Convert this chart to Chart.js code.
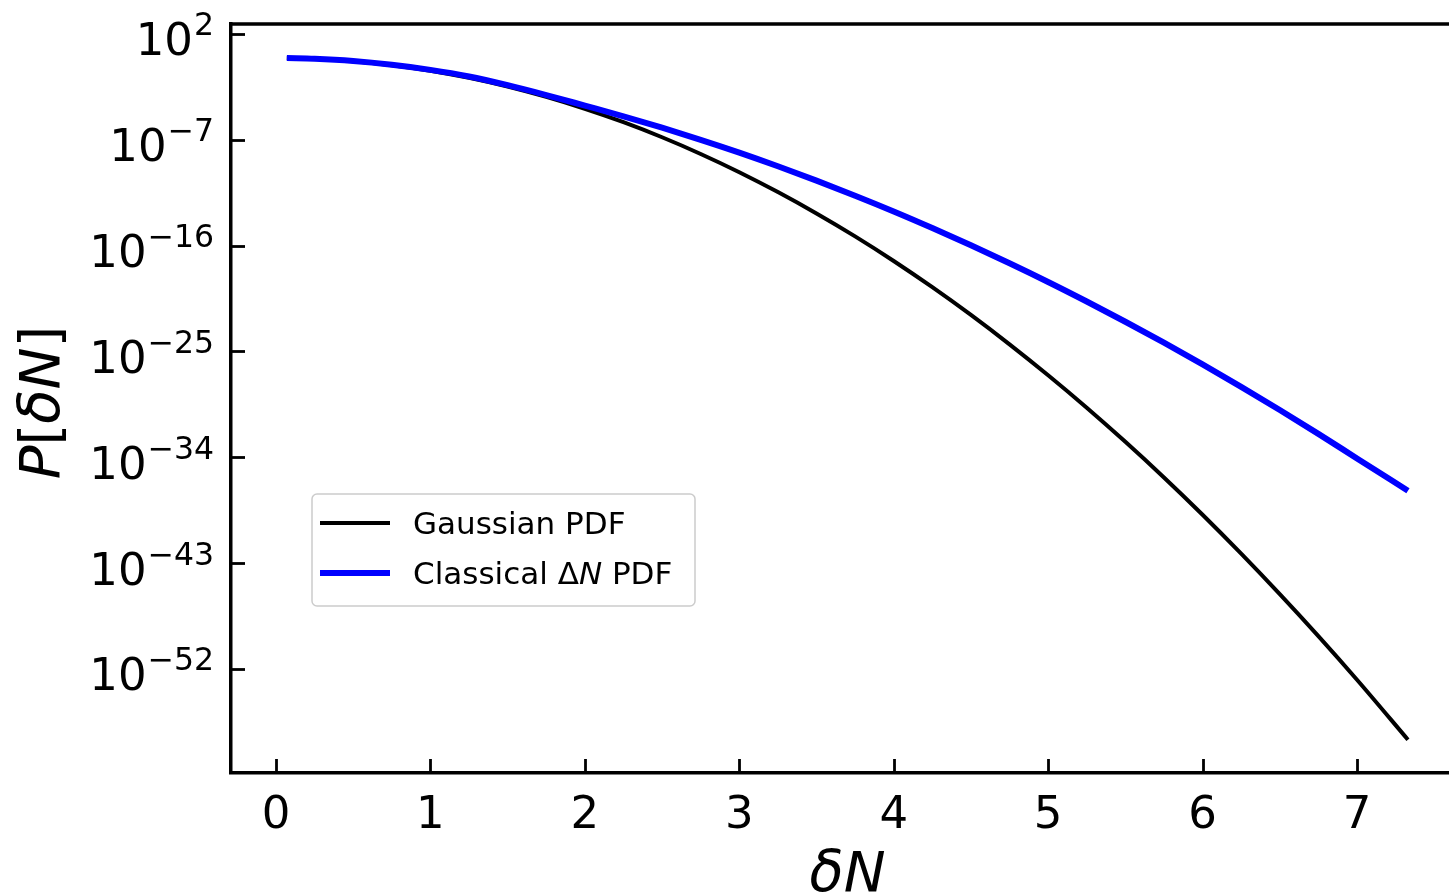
<!DOCTYPE html>
<html>
<head>
<meta charset="utf-8">
<script src="https://cdn.jsdelivr.net/npm/chart.js@4.4.1/dist/chart.umd.min.js"></script>
<style>
html,body{margin:0;padding:0;overflow:hidden;background:#fff;width:1449px;height:894px}
#wrap{position:absolute;left:0;top:0;width:1466px;height:894px}
</style>
</head>
<body>
<div id="wrap"><canvas id="c" width="1466" height="894"></canvas></div>
<script>
// ---- data (y values given as log10 exponents) ----
const deltaN = [0.07,0.25,0.5,0.75,1.0,1.25,1.5,1.75,2.0,2.25,2.5,2.75,3.0,3.25,3.5,3.75,4.0,4.25,4.5,4.75,5.0,5.25,5.5,5.75,6.0,6.25,6.5,6.75,7.0,7.33];
const gaussianExp = [-0.06,-0.12,-0.32,-0.66,-1.13,-1.74,-2.48,-3.36,-4.37,-5.51,-6.79,-8.21,-9.76,-11.45,-13.27,-15.22,-17.31,-19.54,-21.90,-24.40,-27.03,-29.79,-32.69,-35.72,-38.89,-42.20,-45.64,-49.21,-52.92,-58.02];
const classicalExp = [-0.06,-0.12,-0.31,-0.63,-1.06,-1.62,-2.36,-3.20,-4.10,-5.01,-5.98,-7.01,-8.10,-9.26,-10.48,-11.76,-13.10,-14.51,-15.98,-17.51,-19.10,-20.76,-22.48,-24.26,-26.10,-28.01,-29.98,-32.01,-34.10,-36.85];
const xTickValues = [0,1,2,3,4,5,6,7];
const yTickExponents = [2,-7,-16,-25,-34,-43,-52];
const seriesLabels = ['Gaussian PDF','Classical \u0394N PDF'];

const toPoints = (xs, exps) => xs.map((x,i) => ({x: x, y: Math.pow(10, exps[i])}));

const FONT = '"DejaVu Sans"';

const framePlugin = {
  id: 'frame',
  afterDraw(chart) {
    const ctx = chart.ctx, a = chart.chartArea, xs = chart.scales.x, ys = chart.scales.y;
    ctx.save();
    ctx.strokeStyle = '#000'; ctx.fillStyle = '#000';
    // top and right spines
    ctx.lineWidth = 3.5;
    ctx.beginPath(); ctx.moveTo(a.left, a.top); ctx.lineTo(a.right, a.top); ctx.lineTo(a.right, a.bottom); ctx.stroke();
    // inward tick marks
    ctx.lineWidth = 2.8;
    xs.ticks.forEach(t => {
      const px = Math.round(xs.getPixelForValue(t.value)) + 0.5;
      ctx.beginPath(); ctx.moveTo(px, a.bottom); ctx.lineTo(px, a.bottom - 14); ctx.stroke();
    });
    ys.ticks.forEach(t => {
      const py = Math.round(ys.getPixelForValue(t.value)) + 0.5;
      ctx.beginPath(); ctx.moveTo(a.left, py); ctx.lineTo(a.left + 14, py); ctx.stroke();
    });
    // x tick labels
    ctx.font = '45px ' + FONT; ctx.textAlign = 'center'; ctx.textBaseline = 'alphabetic';
    xs.ticks.forEach(t => {
      ctx.fillText(String(t.value), xs.getPixelForValue(t.value), a.bottom + 55);
    });
    // y tick labels 10^e
    ys.ticks.forEach(t => {
      const e = Math.round(Math.log10(t.value));
      const sup = e < 0 ? '\u2212' + Math.abs(e) : String(e);
      const py = ys.getPixelForValue(t.value);
      const right = a.left - 17;
      ctx.textAlign = 'right';
      ctx.font = '31.5px ' + FONT;
      const sw = ctx.measureText(sup).width;
      ctx.fillText(sup, right, py + 1.5);
      ctx.font = '45px ' + FONT;
      ctx.fillText('10', right - sw - 1, py + 21.5);
    });
    // x axis title: δN (math italic)
    ctx.font = 'italic 56px ' + FONT; ctx.textAlign = 'center';
    ctx.fillText('\u03B4N', (a.left + a.right) / 2, a.bottom + 118);
    // y axis title: P[δN]
    ctx.save();
    ctx.translate(59, (a.top + a.bottom) / 2 + 4);
    ctx.rotate(-Math.PI / 2);
    const parts = [['P', true], ['[', false], ['\u03B4N', true], [']', false]];
    let total = 0;
    parts.forEach(p => { ctx.font = (p[1] ? 'italic ' : '') + '56px ' + FONT; p.push(ctx.measureText(p[0]).width); total += p[2]; });
    let x0 = -total / 2;
    ctx.textAlign = 'left';
    parts.forEach(p => { ctx.font = (p[1] ? 'italic ' : '') + '56px ' + FONT; ctx.fillText(p[0], x0, 0); x0 += p[2]; });
    ctx.restore();
    // legend
    const lx = 312, ly = 494, lw = 383, lh = 112;
    ctx.beginPath();
    ctx.roundRect(lx, ly, lw, lh, 5);
    ctx.fillStyle = 'rgba(255,255,255,0.8)'; ctx.fill();
    ctx.strokeStyle = '#cccccc'; ctx.lineWidth = 1.5; ctx.stroke();
    const ds = chart.data.datasets;
    const rows = [529, 579];
    ds.forEach((d, i) => {
      const cy = rows[i] - 6;
      ctx.strokeStyle = d.borderColor; ctx.lineWidth = d.borderWidth;
      ctx.beginPath(); ctx.moveTo(320, cy); ctx.lineTo(390, cy); ctx.stroke();
    });
    ctx.fillStyle = '#000'; ctx.textAlign = 'left';
    ctx.font = '31px ' + FONT;
    ctx.fillText(ds[0].label, 413, rows[0] + 5);
    // "Classical ΔN PDF" with italic N
    const lab = ds[1].label; const k = lab.indexOf('N');
    let tx = 413;
    const seg = [[lab.slice(0, k), false], ['N', true], [lab.slice(k + 1), false]];
    seg.forEach(s => { ctx.font = (s[1] ? 'italic ' : '') + '31px ' + FONT; ctx.fillText(s[0], tx, rows[1] + 5); tx += ctx.measureText(s[0]).width; });
    ctx.restore();
  }
};

new Chart(document.getElementById('c'), {
  type: 'line',
  data: {
    datasets: [
      {label: seriesLabels[0], data: toPoints(deltaN, gaussianExp), borderColor: '#000000', borderWidth: 4, pointRadius: 0, order: 1, cubicInterpolationMode: 'monotone', fill: false},
      {label: seriesLabels[1], data: toPoints(deltaN, classicalExp), borderColor: '#0000ff', borderWidth: 6, pointRadius: 0, order: 0, cubicInterpolationMode: 'monotone', fill: false}
    ]
  },
  options: {
    responsive: false, animation: false, devicePixelRatio: 1,
    layout: {padding: {left: 231, top: 24, right: 2, bottom: 121}},
    plugins: {legend: {display: false}, tooltip: {enabled: false}},
    scales: {
      x: {
        type: 'linear', min: -0.2915, max: 7.693,
        grid: {display: false, drawTicks: false},
        border: {display: true, color: '#000', width: 3.5},
        ticks: {display: false},
        afterBuildTicks: s => { s.ticks = xTickValues.map(v => ({value: v})); }
      },
      y: {
        type: 'logarithmic', min: Math.pow(10, -60.85), max: Math.pow(10, 2.84),
        grid: {display: false, drawTicks: false},
        border: {display: true, color: '#000', width: 3.5},
        ticks: {display: false},
        afterBuildTicks: s => { s.ticks = yTickExponents.map(e => ({value: Math.pow(10, e)})); }
      }
    }
  },
  plugins: [framePlugin]
});
</script>
</body>
</html>
